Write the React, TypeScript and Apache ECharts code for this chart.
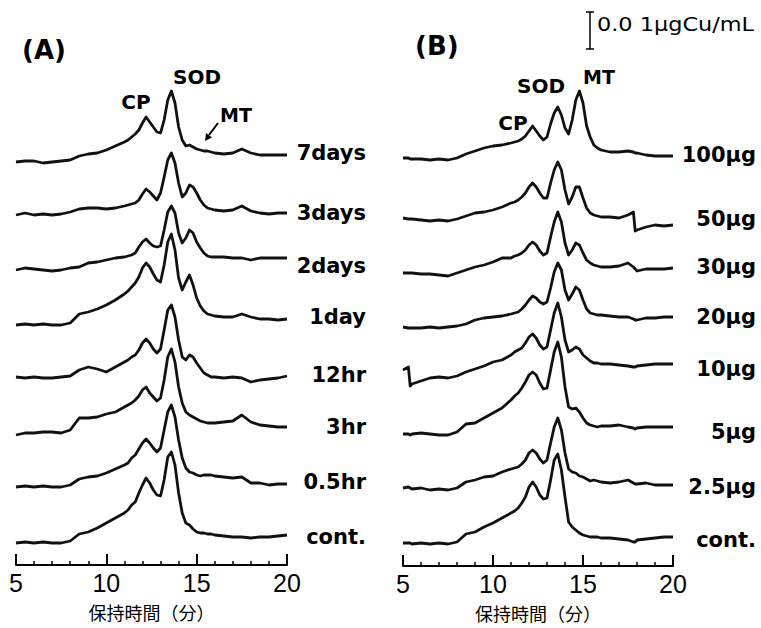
import React, { useEffect, useRef } from "react";
import * as echarts from "echarts";

// Retention time sampling (min)
const XA = [5, 5.5, 6, 6.5, 7, 7.5, 8, 8.5, 9, 9.5, 10, 10.5, 11,
  11.2, 11.4, 11.6, 11.8, 12, 12.2, 12.4, 12.6, 12.8, 13, 13.2, 13.4, 13.6, 13.8, 14, 14.2, 14.4, 14.6, 14.8, 15, 15.2, 15.4, 15.6, 15.8, 16,
  16.5, 17, 17.5, 18, 18.5, 19, 19.5, 20];
const XB = [5, 5.3, 5.4, 5.5, 6, 6.5, 7, 7.5, 8, 8.5, 9, 9.5, 10, 10.5, 11,
  11.2, 11.4, 11.6, 11.8, 12, 12.2, 12.4, 12.6, 12.8, 13, 13.2, 13.4, 13.6, 13.8, 14, 14.2, 14.4, 14.6, 14.8, 15, 15.2, 15.4, 15.6, 15.8, 16,
  16.5, 17, 17.5, 17.8, 17.9, 18, 18.5, 19, 19.5, 20];

const TICK_LABELS = [5, 10, 15, 20];
const AXIS_TITLE = "保持時間（分）";

// Panel (A): time after administration
const LABELS_A = ["7days", "3days", "2days", "1day", "12hr", "3hr", "0.5hr", "cont."];
const OFFSETS_A = [403, 350, 295, 240, 188, 130, 78, 22];
const A_7DAYS = [0, 1, 1, -1, 0, 1, 2, 6, 8, 9, 12, 16, 20,
  22, 25, 28, 32, 39, 45, 40, 35, 30, 29, 42, 62, 71, 59, 35, 22, 16, 17, 15, 13, 12, 11, 11, 10, 9,
  8, 9, 13, 9, 7, 7, 7, 7];
const A_3DAYS = [0, 2, 0, 1, 0, 1, 3, 6, 7, 7, 6, 7, 9,
  10, 11, 12, 15, 21, 26, 23, 19, 15, 22, 38, 55, 62, 52, 32, 18, 22, 30, 28, 22, 15, 10, 7, 6, 5,
  4, 5, 9, 4, 2, 1, 2, 2];
const A_2DAYS = [0, 2, 1, 0, -1, 0, 2, 3, 7, 8, 10, 12, 13,
  14, 15, 17, 23, 28, 31, 27, 24, 23, 24, 40, 58, 64, 57, 37, 27, 32, 40, 37, 28, 22, 17, 14, 13, 13,
  13, 12, 12, 10, 12, 12, 12, 12];
const A_1DAY = [0, 1, 0, 1, 0, 0, 2, 11, 13, 16, 20, 25, 31,
  34, 38, 42, 48, 57, 62, 58, 51, 45, 43, 60, 83, 91, 75, 47, 35, 43, 50, 40, 27, 19, 14, 11, 10, 9,
  8, 8, 11, 8, 6, 6, 5, 6];
const A_12HR = [0, -1, 0, -1, -1, 0, 1, 7, 10, 8, 5, 10, 15,
  17, 20, 22, 27, 34, 38, 34, 28, 24, 28, 47, 67, 72, 60, 37, 20, 17, 22, 20, 14, 9, 4, 2, 0, 0,
  -1, 0, -1, -5, -3, -2, -1, 1];
const A_3HR = [0, 2, 2, 3, 3, 2, 5, 17, 17, 18, 21, 23, 28,
  30, 32, 35, 39, 45, 48, 42, 38, 34, 37, 55, 78, 86, 73, 48, 32, 23, 20, 18, 16, 14, 13, 12, 12, 12,
  13, 14, 20, 13, 10, 9, 8, 8];
const A_05HR = [0, 1, 0, 1, 0, 0, 2, 8, 10, 11, 14, 18, 22,
  24, 29, 32, 38, 44, 48, 44, 39, 35, 39, 57, 75, 82, 70, 47, 29, 19, 15, 14, 12, 11, 12, 12, 12, 11,
  10, 9, 10, 4, 4, 2, 3, 3];
const A_CONT = [0, 1, 0, 1, 0, 0, 2, 9, 11, 15, 20, 25, 30,
  33, 38, 41, 50, 58, 65, 60, 53, 48, 47, 63, 86, 91, 78, 50, 30, 20, 18, 14, 11, 10, 10, 9, 9, 8,
  7, 6, 6, 5, 6, 6, 7, 8];
const TRACES_A = [A_7DAYS, A_3DAYS, A_2DAYS, A_1DAY, A_12HR, A_3HR, A_05HR, A_CONT];

// Panel (B): dose
const LABELS_B = ["100µg", "50µg", "30µg", "20µg", "10µg", "5µg", "2.5µg", "cont."];
const OFFSETS_B = [408, 348, 293, 239, 182, 132, 78, 23];
const B_100 = [0, 0, -1, -1, -1, -2, -1, -2, 0, 4, 7, 10, 12, 13, 15,
  16, 17, 19, 22, 27, 32, 27, 22, 18, 21, 34, 45, 51, 43, 30, 24, 38, 58, 67, 55, 32, 21, 13, 10, 8,
  6, 6, 7, 6, 5, 5, 3, 2, 2, 2];
const B_50 = [0, -1, -1, -1, -2, -3, -2, -3, -1, 2, 5, 6, 8, 11, 15,
  16, 18, 21, 25, 31, 35, 31, 25, 20, 20, 35, 48, 56, 48, 28, 14, 21, 31, 31, 20, 10, 5, 3, 2, 1,
  1, 0, 3, 6, -13, -12, -9, -7, -8, -7];
const B_30 = [0, 0, 0, 0, -1, -1, -2, -3, 0, 3, 6, 8, 11, 15, 15,
  17, 18, 20, 23, 28, 31, 28, 22, 18, 20, 36, 51, 61, 51, 30, 18, 23, 30, 28, 20, 13, 10, 8, 7, 6,
  6, 7, 10, 6, 4, 2, 4, 4, 4, 5];
const B_20 = [0, -1, -1, -1, -1, 0, -1, 0, 1, 3, 7, 9, 10, 11, 13,
  14, 15, 18, 22, 27, 31, 29, 25, 23, 25, 39, 55, 64, 57, 37, 27, 33, 40, 37, 27, 18, 14, 13, 12, 12,
  11, 10, 10, 8, 7, 7, 9, 9, 10, 10];
const B_10 = [14, 17, -2, 0, 3, 6, 7, 6, 8, 12, 15, 18, 22, 24, 29,
  32, 34, 36, 41, 47, 50, 46, 39, 35, 37, 54, 71, 81, 67, 44, 32, 34, 37, 35, 29, 26, 23, 21, 21, 20,
  20, 19, 18, 17, 17, 18, 19, 20, 20, 20];
const B_5 = [0, 0, -1, 0, 1, 0, -1, -1, 2, 10, 11, 16, 21, 26, 34,
  38, 41, 46, 52, 59, 62, 59, 51, 45, 46, 64, 82, 92, 77, 47, 27, 25, 26, 22, 16, 11, 9, 8, 7, 8,
  8, 9, 7, 6, 5, 6, 7, 7, 7, 7];
const B_25 = [0, 1, 0, -1, 0, -2, -1, -2, 0, 6, 8, 11, 12, 16, 19,
  20, 21, 24, 28, 35, 38, 35, 29, 25, 28, 45, 61, 70, 58, 35, 19, 16, 15, 12, 11, 9, 7, 8, 7, 6,
  5, 6, 8, 5, 4, 4, 5, 3, 3, 3];
const B_CONT = [0, 0, 0, -1, 0, -1, 0, -1, 1, 9, 11, 16, 20, 25, 30,
  32, 35, 40, 46, 56, 61, 56, 48, 44, 45, 63, 83, 89, 73, 46, 21, 16, 13, 10, 8, 7, 6, 6, 6, 5,
  5, 4, 3, 1, 1, 3, 4, 5, 6, 6];
const TRACES_B = [B_100, B_50, B_30, B_20, B_10, B_5, B_25, B_CONT];

// layout nudges for the right-hand labels (px, relative to trace end)
const LABEL_DY_A = [-2, 0, 8, -2, -1, 0, -2, 2];
const LABEL_DY_B = [-1, -6, -1, 0, 5, 5, 2, 3];

const LINE_COLOR = "#111";
const LABEL_FONT = '"DejaVu Sans", sans-serif';

function xAxisFor(gridIndex: number) {
  return {
    type: "value" as const,
    gridIndex,
    min: 5,
    max: 20,
    interval: 5,
    axisLine: { show: true, onZero: false, lineStyle: { color: "#000", width: 2 } },
    axisTick: { show: true, inside: true, length: 11, lineStyle: { color: "#000", width: 2 } },
    minorTick: { show: true, splitNumber: 5, length: 4, lineStyle: { color: "#000", width: 1.5 } },
    splitLine: { show: false },
    minorSplitLine: { show: false },
    axisLabel: {
      color: "#000",
      fontSize: 25,
      fontFamily: '"Liberation Sans", Arial, sans-serif',
      margin: 5,
      formatter: (v: number) => (TICK_LABELS.includes(v) ? String(v) : ""),
    },
    name: AXIS_TITLE,
    nameLocation: "middle" as const,
    nameGap: 38,
    nameTextStyle: { color: "#000", fontSize: 18, fontFamily: '"Noto Sans CJK JP", sans-serif' },
  };
}

function yAxisFor(gridIndex: number) {
  return { type: "value" as const, gridIndex, min: 0, max: 500, show: false };
}

export default function App() {
  const ref = useRef<HTMLDivElement>(null);
  useEffect(() => {
    if (!ref.current) return;
    const chart = echarts.init(ref.current, undefined, { renderer: "svg" });

    const series: any[] = [];
    TRACES_A.forEach((vals, k) => {
      series.push({
        type: "line",
        xAxisIndex: 0,
        yAxisIndex: 0,
        data: XA.map((x, i) => [x, OFFSETS_A[k] + vals[i]]),
        showSymbol: false,
        symbol: "none",
        silent: true,
        lineStyle: { color: LINE_COLOR, width: 2.8, join: "round" },
      });
    });
    TRACES_B.forEach((vals, k) => {
      series.push({
        type: "line",
        xAxisIndex: 1,
        yAxisIndex: 1,
        data: XB.map((x, i) => [x, OFFSETS_B[k] + vals[i]]),
        showSymbol: false,
        symbol: "none",
        silent: true,
        lineStyle: { color: LINE_COLOR, width: 2.8, join: "round" },
      });
    });

    chart.setOption({
      animation: false,
      backgroundColor: "#fff",
      grid: [
        { left: 16, top: 65, width: 271, height: 500 },
        { left: 403, top: 66, width: 270, height: 500 },
      ],
      xAxis: [xAxisFor(0), xAxisFor(1)],
      yAxis: [yAxisFor(0), yAxisFor(1)],
      series,
    });

    const txt = (text: string, x: number, y: number, size: number, align: string, weight = "bold", extra: any = {}) => ({
      type: "text",
      x,
      y,
      silent: true,
      ...extra,
      style: {
        text,
        fill: "#000",
        fontSize: size,
        fontWeight: weight,
        fontFamily: LABEL_FONT,
        align,
        verticalAlign: "middle",
      },
    });

    const graphics: any[] = [];
    // right-hand trace labels, positioned from the trace end points
    TRACES_A.forEach((vals, k) => {
      const p = chart.convertToPixel({ seriesIndex: k }, [XA[XA.length - 1], OFFSETS_A[k] + vals[vals.length - 1]]) as number[];
      graphics.push(txt(LABELS_A[k], 366, p[1] + LABEL_DY_A[k], 21, "right"));
    });
    TRACES_B.forEach((vals, k) => {
      const p = chart.convertToPixel({ seriesIndex: 8 + k }, [XB[XB.length - 1], OFFSETS_B[k] + vals[vals.length - 1]]) as number[];
      graphics.push(txt(LABELS_B[k], 756, p[1] + LABEL_DY_B[k], 21, "right"));
    });

    // panel titles
    graphics.push(txt("(A)", 22, 50, 26, "left"));
    graphics.push(txt("(B)", 415, 46, 26, "left"));

    // peak annotations (A)
    graphics.push(txt("CP", 136, 102, 20, "center"));
    graphics.push(txt("SOD", 197, 77, 20, "center"));
    graphics.push(txt("MT", 236, 115, 19, "center"));
    graphics.push({
      type: "line", silent: true,
      shape: { x1: 218, y1: 123, x2: 209, y2: 135 },
      style: { stroke: "#000", lineWidth: 2 },
    });
    graphics.push({
      type: "polygon", silent: true,
      shape: { points: [[205, 141], [212, 137.5], [206, 133]] },
      style: { fill: "#000" },
    });

    // peak annotations (B)
    graphics.push(txt("CP", 513, 123, 20, "center"));
    graphics.push(txt("SOD", 541, 86, 20, "center"));
    graphics.push(txt("MT", 599, 77, 19, "center"));

    // scale bar
    graphics.push({ type: "line", silent: true, shape: { x1: 590, y1: 12, x2: 590, y2: 49 }, style: { stroke: "#000", lineWidth: 1.5 } });
    graphics.push({ type: "line", silent: true, shape: { x1: 586, y1: 12, x2: 594, y2: 12 }, style: { stroke: "#000", lineWidth: 1.5 } });
    graphics.push({ type: "line", silent: true, shape: { x1: 586, y1: 49, x2: 594, y2: 49 }, style: { stroke: "#000", lineWidth: 1.5 } });
    graphics.push(txt("0.0 1µgCu/mL", 597, 24, 20, "left", "normal", { scaleX: 1.12 }));

    chart.setOption({ graphic: graphics });

    return () => chart.dispose();
  }, []);

  return (
    <div
      ref={ref}
      style={{ position: "fixed", left: 0, top: 0, width: 761, height: 628, background: "#fff" }}
    />
  );
}
